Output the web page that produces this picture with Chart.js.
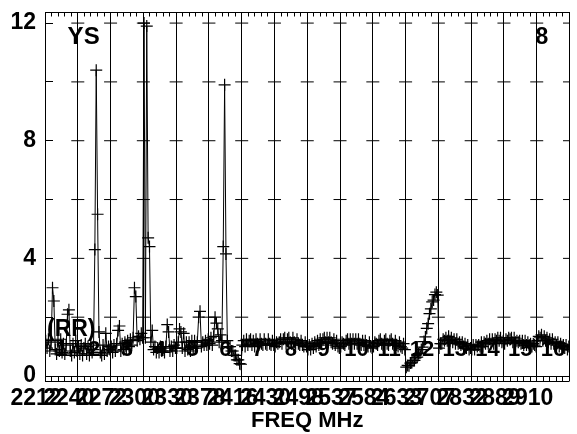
<!DOCTYPE html>
<html>
<head>
<meta charset="utf-8">
<script src="https://cdn.jsdelivr.net/npm/chart.js@4.4.0/dist/chart.umd.min.js"></script>
<style>
  html, body { margin: 0; padding: 0; background: #fff; overflow: hidden; }
  #wrap { width: 577px; height: 434px; }
</style>
</head>
<body>
<div id="wrap"><canvas id="can-espectro"></canvas></div>
<script>
// rótulos de frequência nas bordas dos segmentos (FREQ MHz)
const freqLabels = ['2212', '2240', '2272', '2300', '2330', '2378', '2416', '2430', '2498',
  '2537', '2584', '2633', '2707', '2832', '2889', '2910', ''];
const segNames = ['1', '2', '3', '4', '5', '6', '7', '8', '9', '10', '11', '12', '13', '14', '15', '16'];
const gridLevels = [2, 4, 6, 8, 10, 12];

const seg01 = [1.2, 0.95, 1.25, 0.85, 1.15, 3.0, 2.55, 0.9, 0.75, 1.2, 0.85, 1.25, 0.8, 1.1, 0.75, 1.05, 2.1, 2.25, 0.85, 0.7, 1.1, 0.8, 1.2, 0.85];
const seg02 = [1.0, 0.75, 1.05, 0.7, 0.95, 1.1, 0.75, 1.0, 0.7, 1.05, 0.8, 0.9, 4.3, 10.4, 5.5, 1.5, 0.8, 0.7, 1.05, 0.75, 1.45, 0.85, 1.0, 0.9];
const seg03 = [1.0, 0.8, 1.05, 0.85, 1.1, 1.55, 1.7, 0.85, 1.1, 0.9, 1.15, 0.95, 1.2, 1.0, 1.25, 1.05, 1.3, 3.0, 2.7, 1.2, 1.35, 1.25, 1.45, 1.3];
const seg04 = [12.0, 1.3, 11.9, 4.7, 4.4, 1.15, 1.55, 0.9, 1.0, 0.8, 0.95, 0.8, 1.0, 0.85, 0.95, 0.8, 1.0, 1.75, 1.5, 0.85, 1.0, 0.85, 1.05, 0.95];
const seg05 = [0.95, 1.15, 1.6, 1.5, 0.95, 1.45, 0.85, 1.15, 0.9, 1.15, 0.85, 1.2, 0.95, 1.2, 0.95, 1.15, 2.0, 2.2, 1.0, 1.15, 1.05, 1.2, 1.05, 1.25];
const seg06 = [1.1, 1.3, 1.05, 1.35, 2.0, 1.8, 1.6, 1.15, 1.4, 1.2, 4.4, 9.9, 4.15, 1.2, 1.0, 1.0, 0.85, 0.85, 0.7, 0.7, 0.55, 0.55, 0.42, 0.4];
const seg07 = [1.05, 1.2, 1.0, 1.25, 1.05, 1.2, 1.25, 1.05, 1.2, 1.0, 1.25, 1.1, 1.05, 1.25, 1.1, 1.05, 1.25, 1.1, 1.05, 1.25, 1.1, 1.05, 1.2, 1.05];
const seg08 = [1.0, 1.15, 1.1, 1.15, 1.25, 1.1, 1.25, 1.3, 1.1, 1.25, 1.3, 1.15, 1.1, 1.3, 1.15, 1.1, 1.25, 1.1, 1.05, 1.2, 1.05, 1.0, 1.15, 1.0];
const seg09 = [0.9, 1.05, 0.9, 1.1, 0.95, 1.15, 1.0, 1.2, 1.05, 1.25, 1.1, 1.25, 1.3, 1.15, 1.3, 1.15, 1.3, 1.15, 1.1, 1.25, 1.05, 1.2, 1.0, 0.95];
const seg10 = [1.0, 1.15, 1.1, 1.05, 1.2, 1.25, 1.1, 1.25, 1.1, 1.25, 1.1, 1.25, 1.1, 1.25, 1.1, 1.05, 1.2, 1.05, 1.2, 1.05, 1.0, 1.15, 1.0, 0.95];
const seg11 = [1.0, 1.15, 1.1, 1.05, 1.2, 1.25, 1.1, 1.05, 1.2, 1.25, 1.1, 1.05, 1.2, 1.25, 1.1, 1.05, 1.2, 1.05, 1.0, 1.15, 1.0, 0.95, 1.1, 0.9];
const seg12 = [0.3, 0.36, 0.35, 0.44, 0.45, 0.52, 0.53, 0.62, 0.64, 0.76, 0.78, 0.9, 0.98, 1.17, 1.33, 1.62, 1.78, 2.12, 2.28, 2.52, 2.58, 2.77, 2.85, 2.75];
const seg13 = [0.95, 1.1, 1.1, 1.25, 1.2, 1.3, 1.2, 1.35, 1.2, 1.3, 1.15, 1.25, 1.1, 1.25, 1.1, 1.15, 1.05, 1.15, 1.0, 1.1, 0.95, 1.05, 0.9, 0.95];
const seg14 = [0.9, 1.05, 0.9, 1.05, 1.0, 1.05, 1.0, 1.15, 1.0, 1.15, 1.1, 1.2, 1.1, 1.25, 1.1, 1.25, 1.1, 1.25, 1.2, 1.3, 1.2, 1.3, 1.15, 1.2];
const seg15 = [1.1, 1.25, 1.2, 1.3, 1.25, 1.3, 1.15, 1.3, 1.15, 1.2, 1.15, 1.2, 1.1, 1.2, 1.05, 1.2, 1.05, 1.15, 1.05, 1.1, 1.0, 1.1, 1.05, 1.0];
const seg16 = [1.2, 1.35, 1.3, 1.4, 1.2, 1.35, 1.2, 1.3, 1.15, 1.25, 1.1, 1.25, 1.1, 1.15, 1.05, 1.15, 1.0, 1.1, 1.0, 1.05, 0.95, 1.05, 0.9, 1.0];

const segmentos = [seg01, seg02, seg03, seg04, seg05, seg06, seg07, seg08,
  seg09, seg10, seg11, seg12, seg13, seg14, seg15, seg16];

// pontos: cada segmento ocupa uma unidade do eixo x
const pontos = [];
segmentos.forEach((vals, s) => {
  vals.forEach((v, k) => pontos.push({ x: s + (k + 0.5) / vals.length, y: v }));
});

// pequenas cruzes da grade nas linhas verticais
const marcasGrade = [];
for (let b = 1; b <= segNames.length; b++) {
  gridLevels.forEach(lv => marcasGrade.push({ x: b, y: lv }));
}

const familia = '"Liberation Sans", Arial, sans-serif';
const fonteEixo = { family: familia, size: 23, weight: 'bold' };
const ehInteiro = v => Math.abs(v - Math.round(v)) < 1e-6;

// textos soltos dentro do gráfico
const notas = [
  { text: 'YS', x: 0.69, y: 11.5, align: 'left', size: 24 },
  { text: '8', x: 15.16, y: 11.5, align: 'center', size: 23 },
  { text: '(RR)', x: 0.06, y: 1.56, align: 'left', size: 23 }
];

const rotulos = {
  id: 'rotulos',
  beforeDatasetsDraw(chart) {
    const { ctx, scales: { x, y } } = chart;
    ctx.save();
    ctx.fillStyle = '#000';
    ctx.textBaseline = 'middle';
    ctx.textAlign = 'center';
    ctx.font = 'bold 22px ' + familia;
    segNames.forEach((n, i) => ctx.fillText(n, x.getPixelForValue(i + 0.5), y.getPixelForValue(0.88)));
    notas.forEach(n => {
      ctx.font = 'bold ' + n.size + 'px ' + familia;
      ctx.textAlign = n.align;
      ctx.fillText(n.text, x.getPixelForValue(n.x), y.getPixelForValue(n.y));
    });
    // linha de baixo da "escada" do eixo x
    ctx.strokeStyle = '#000';
    ctx.lineWidth = 1;
    ctx.beginPath();
    ctx.moveTo(x.left, Math.round(x.top + 5) + 0.5);
    ctx.lineTo(x.right, Math.round(x.top + 5) + 0.5);
    ctx.stroke();
    ctx.restore();
  }
};

const grafico = new Chart(document.getElementById('can-espectro'), {
  type: 'line',
  data: {
    datasets: [{
      label: 'RR',
      data: pontos,
      borderColor: '#000',
      borderWidth: 1,
      pointStyle: 'cross',
      pointRadius: 6,
      pointBorderWidth: 1.2,
      pointBorderColor: '#000',
      tension: 0,
      fill: false
    }, {
      label: 'grade',
      data: marcasGrade,
      showLine: false,
      pointStyle: 'line',
      pointRadius: 6.5,
      pointBorderWidth: 1,
      pointBorderColor: '#000'
    }]
  },
  options: {
    responsive: true,
    maintainAspectRatio: false,
    animation: false,
    layout: { padding: 0 },
    plugins: {
      legend: { display: false },
      tooltip: { enabled: false }
    },
    scales: {
      x: {
        type: 'linear',
        position: 'bottom',
        min: 0,
        max: 16,
        afterFit: s => { s.height = 58; s.paddingLeft = 0; s.paddingRight = 0; },
        ticks: {
          stepSize: 0.2,
          autoSkip: false,
          maxRotation: 0,
          minRotation: 0,
          labelOffset: -9,
          padding: 4,
          color: '#000',
          font: fonteEixo,
          callback: v => ehInteiro(v) ? (freqLabels[Math.round(v)] || '') : ''
        },
        grid: {
          color: c => ehInteiro(c.tick.value) ? '#000' : 'rgba(0,0,0,0)',
          tickColor: '#000',
          tickLength: 5,
          lineWidth: 1
        },
        border: { color: '#000', width: 1 },
        title: {
          display: true,
          text: 'FREQ MHz',
          color: '#000',
          font: { family: familia, size: 22, weight: 'bold' },
          padding: { top: 0, bottom: 0 }
        }
      },
      x2: {
        type: 'linear',
        position: 'top',
        min: 0,
        max: 16,
        afterFit: s => { s.height = 12.5; },
        ticks: { display: false, stepSize: 0.2 },
        grid: { drawOnChartArea: false, tickLength: -4, color: '#000' },
        border: { color: '#000', width: 1 }
      },
      y: {
        min: 0,
        max: 12.36,
        afterFit: s => { s.width = 45; s.paddingTop = 0; s.paddingBottom = 0; },
        ticks: {
          stepSize: 2,
          includeBounds: false,
          padding: 17,
          color: '#000',
          font: fonteEixo,
          callback: v => (v % 4 === 0 ? String(v) : '')
        },
        grid: { drawOnChartArea: false, tickLength: -8, color: '#000' },
        border: { color: '#000', width: 1 }
      }
    }
  },
  plugins: [rotulos]
});
</script>
</body>
</html>
